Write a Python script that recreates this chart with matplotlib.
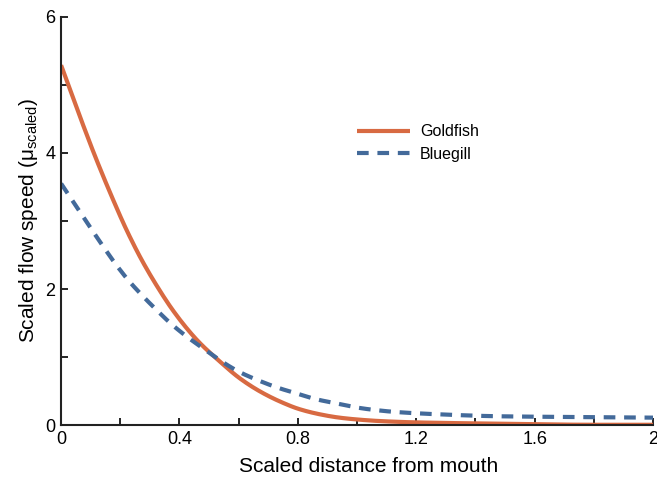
import numpy as np
import matplotlib
matplotlib.use("Agg")
import matplotlib.pyplot as plt
from matplotlib.ticker import MultipleLocator

plt.rcParams["font.family"] = ["Liberation Sans", "DejaVu Sans"]
plt.rcParams["mathtext.fontset"] = "custom"
plt.rcParams["mathtext.rm"] = "Liberation Sans"

# values
goldfish_x = [0.0, 0.064, 0.115, 0.171, 0.222, 0.272, 0.323, 0.374, 0.425, 0.468,
              0.535, 0.603, 0.67, 0.738, 0.805, 0.873, 0.94, 1.008, 1.076, 1.2,
              1.5, 1.8, 2.0]
goldfish_y = [5.29, 4.53, 3.95, 3.36, 2.86, 2.43, 2.05, 1.71, 1.42, 1.21,
              0.94, 0.69, 0.50, 0.35, 0.235, 0.16, 0.11, 0.08, 0.06, 0.04,
              0.02, 0.005, 0.005]

bluegill_x = [0.0, 0.02, 0.104, 0.143, 0.182, 0.227, 0.273, 0.323, 0.374, 0.425,
              0.479, 0.541, 0.603, 0.665, 0.732, 0.80, 0.862, 0.93, 0.997, 1.065,
              1.14, 1.27, 1.48, 1.7, 2.0]
bluegill_y = [3.55, 3.42, 2.87, 2.62, 2.38, 2.13, 1.91, 1.69, 1.48, 1.30,
              1.13, 0.94, 0.78, 0.66, 0.55, 0.46, 0.38, 0.32, 0.26, 0.22,
              0.19, 0.16, 0.13, 0.12, 0.11]

orange = "#D86A42"
blue = "#436A9A"


def smooth(xs, ys, n=400):
    # monotone cubic (pchip-like) through the read points
    xs = np.asarray(xs, dtype=float)
    ys = np.asarray(ys, dtype=float)
    xx = np.linspace(xs[0], xs[-1], n)
    dx = np.diff(xs)
    m = np.diff(ys) / dx
    d = np.zeros_like(ys)
    d[0], d[-1] = m[0], m[-1]
    for i in range(1, len(xs) - 1):
        if m[i - 1] * m[i] <= 0:
            d[i] = 0
        else:
            w1 = 2 * dx[i] + dx[i - 1]
            w2 = dx[i] + 2 * dx[i - 1]
            d[i] = (w1 + w2) / (w1 / m[i - 1] + w2 / m[i])
    idx = np.clip(np.searchsorted(xs, xx) - 1, 0, len(xs) - 2)
    h = dx[idx]
    t = (xx - xs[idx]) / h
    h00 = 2 * t**3 - 3 * t**2 + 1
    h10 = t**3 - 2 * t**2 + t
    h01 = -2 * t**3 + 3 * t**2
    h11 = t**3 - t**2
    yy = h00 * ys[idx] + h10 * h * d[idx] + h01 * ys[idx + 1] + h11 * h * d[idx + 1]
    return xx, yy


fig = plt.figure(figsize=(6.57, 4.82), dpi=100)
ax = fig.add_axes([0.093, 0.118, 0.901, 0.847])

gx, gy = smooth(goldfish_x, goldfish_y)
bx, by = smooth(bluegill_x, bluegill_y)

ax.plot(gx, gy, color=orange, lw=3.0, label="Goldfish", solid_capstyle="butt")
ax.plot(bx, by, color=blue, lw=3.0, ls=(0, (2.8, 2.1)), label="Bluegill",
        dash_capstyle="butt")

ax.set_xlim(0, 2)
ax.set_ylim(0, 6)
ax.set_xticks([0, 0.4, 0.8, 1.2, 1.6, 2])
ax.set_xticklabels(["0", "0.4", "0.8", "1.2", "1.6", "2"])
ax.xaxis.set_minor_locator(MultipleLocator(0.2))
ax.set_yticks([0, 2, 4, 6])
ax.set_yticklabels(["0", "2", "4", "6"])
ax.yaxis.set_minor_locator(MultipleLocator(1))

ax.tick_params(which="both", direction="in", length=5, width=1.2, labelsize=13, pad=4)
ax.spines["top"].set_visible(False)
ax.spines["right"].set_visible(False)
for s in ["left", "bottom"]:
    ax.spines[s].set_linewidth(1.5)
    ax.spines[s].set_color("#222222")

ax.set_xlabel("Scaled distance from mouth", fontsize=15, labelpad=8)
ax.xaxis.set_label_coords(0.52, -0.078)
ax.set_ylabel("Scaled flow speed (μ$_{\\rm scaled}$)", fontsize=15, labelpad=4)

ax.legend(loc="upper left", bbox_to_anchor=(0.476, 0.772), frameon=False,
          fontsize=11.5, handlelength=3.3, handletextpad=0.63, labelspacing=0.45)

fig.savefig("out.png", dpi=100)
